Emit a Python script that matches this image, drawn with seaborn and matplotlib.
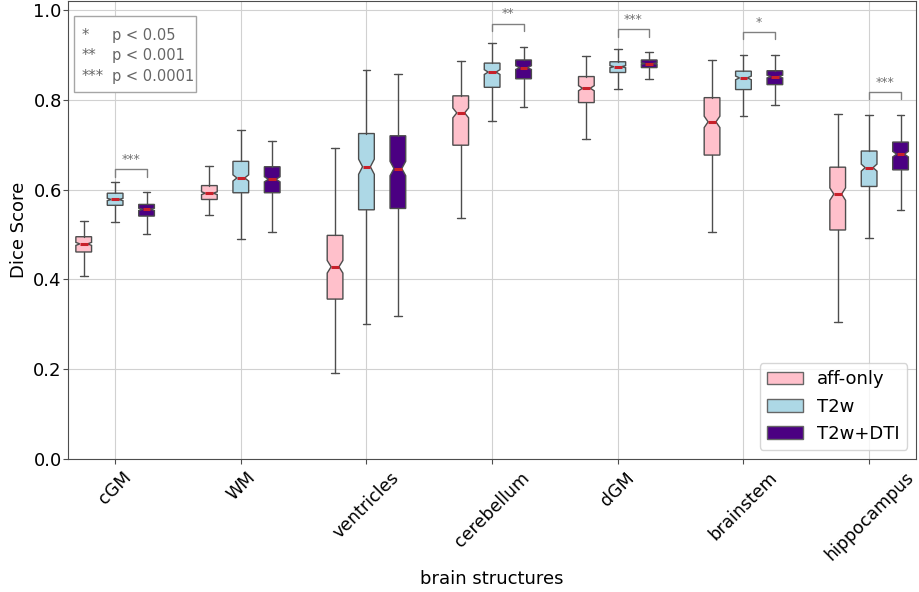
"""
Dice scores per brain structure, notched boxplots
"""

import numpy as np
import seaborn as sns
import matplotlib.pyplot as plt
from matplotlib.patches import Patch, Rectangle

structures = ['cGM', 'WM', 'ventricles', 'cerebellum', 'dGM', 'brainstem', 'hippocampus']
methods = ['aff-only', 'T2w', 'T2w+DTI']
colors = ['pink', 'lightblue', 'indigo']

# (low whisker, q1, median, q3, high whisker) per structure
aff_only = [(0.408, 0.461, 0.479, 0.495, 0.531),
            (0.543, 0.578, 0.592, 0.609, 0.652),
            (0.192, 0.356, 0.428, 0.498, 0.693),
            (0.537, 0.699, 0.771, 0.809, 0.886),
            (0.713, 0.794, 0.826, 0.852, 0.897),
            (0.506, 0.677, 0.751, 0.805, 0.889),
            (0.305, 0.510, 0.590, 0.650, 0.768)]
t2w = [(0.528, 0.565, 0.578, 0.592, 0.618),
       (0.489, 0.593, 0.626, 0.663, 0.732),
       (0.300, 0.555, 0.651, 0.725, 0.867),
       (0.752, 0.828, 0.862, 0.882, 0.926),
       (0.825, 0.861, 0.874, 0.885, 0.913),
       (0.763, 0.823, 0.849, 0.864, 0.901),
       (0.492, 0.607, 0.649, 0.686, 0.767)]
t2w_dti = [(0.501, 0.541, 0.556, 0.567, 0.594),
           (0.506, 0.593, 0.623, 0.651, 0.709),
           (0.318, 0.558, 0.647, 0.720, 0.857),
           (0.784, 0.847, 0.872, 0.889, 0.918),
           (0.846, 0.872, 0.881, 0.889, 0.906),
           (0.788, 0.834, 0.852, 0.865, 0.900),
           (0.554, 0.644, 0.679, 0.706, 0.766)]
n_subjects = 250  # used for the notch width, as matplotlib does

# significance T2w vs T2w+DTI
sig_idx = [0, 3, 4, 5, 6]
sig_stars = ['***', '**', '***', '*', '***']
sig_level = [0.645, 0.970, 0.957, 0.951, 0.817]

key_stars = ['*', '**', '***']
key_text = ['p < 0.05', 'p < 0.001', 'p < 0.0001']

sns.set_style('whitegrid', {'axes.edgecolor': '0.3', 'grid.color': '0.82',
                            'xtick.bottom': True, 'ytick.left': True,
                            'xtick.color': '0.3', 'ytick.color': '0.3',
                            'axes.labelcolor': 'black', 'text.color': 'black'})
plt.rcParams['font.family'] = ['DejaVu Sans']

fig, ax = plt.subplots(figsize=(9.19, 5.92), dpi=100)
fig.subplots_adjust(left=0.074, right=0.997, top=0.998, bottom=0.225)

offsets = [-0.25, 0.0, 0.25]
for data, col, off in zip([aff_only, t2w, t2w_dti], colors, offsets):
    stats = []
    for lo, q1, med, q3, hi in data:
        half = 1.57 * (q3 - q1) / np.sqrt(n_subjects)
        stats.append(dict(whislo=lo, q1=q1, med=med, q3=q3, whishi=hi,
                          cilo=med - half, cihi=med + half, fliers=[]))
    pos = np.arange(len(structures)) + off
    ax.bxp(stats, positions=pos, widths=0.125, shownotches=True, patch_artist=True,
           showfliers=False, manage_ticks=False,
           boxprops=dict(facecolor=col, edgecolor='0.3', linewidth=1),
           medianprops=dict(color='#c8202a', linewidth=2.2),
           whiskerprops=dict(color='0.3', linewidth=1),
           capprops=dict(color='0.3', linewidth=1))

# significance brackets
for i, stars, lvl in zip(sig_idx, sig_stars, sig_level):
    x1, x2 = i + offsets[1], i + offsets[2]
    ax.plot([x1, x1, x2, x2], [lvl - 0.016, lvl, lvl, lvl - 0.016],
            color='0.5', linewidth=1)
    ax.text((x1 + x2) / 2, lvl + 0.008, stars, ha='center', va='bottom',
            fontsize=9, color='0.45')

ax.set_xticks(range(len(structures)))
ax.set_xticklabels(structures, rotation=45, fontsize=12.5)
ax.tick_params(axis='both', labelcolor='black')
ax.tick_params(axis='y', labelsize=13, pad=1)
ax.set_xlim(-0.375, len(structures) - 0.625)
ax.set_ylim(0, 1.02)
ax.set_yticks([0.0, 0.2, 0.4, 0.6, 0.8, 1.0])
ax.set_xlabel('brain structures', fontsize=13)
ax.set_ylabel('Dice Score', fontsize=13)

handles = [Patch(facecolor=c, edgecolor='0.4', label=l) for c, l in zip(colors, methods)]
ax.legend(handles=handles, loc='lower right', fontsize=13, frameon=True)

# p-value key
ax.add_patch(Rectangle((0.007, 0.801), 0.144, 0.166, transform=ax.transAxes,
                       facecolor='white', edgecolor='0.65', linewidth=1, zorder=5))
for k, (s, t) in enumerate(zip(key_stars, key_text)):
    yk = 0.926 - 0.045 * k
    ax.text(0.0165, yk, s, transform=ax.transAxes, va='center', fontsize=10.5,
            color='0.4', zorder=6)
    ax.text(0.052, yk, t, transform=ax.transAxes, va='center', fontsize=10.5,
            color='0.4', zorder=6)

fig.savefig('out.png', dpi=100)
